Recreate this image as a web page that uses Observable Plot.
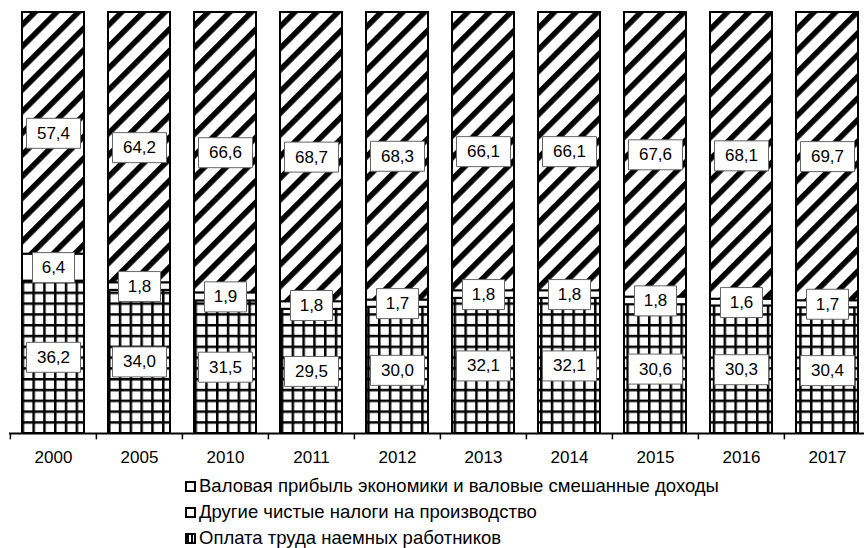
<!DOCTYPE html>
<html><head><meta charset="utf-8">
<script src="https://cdn.jsdelivr.net/npm/d3@7"></script>
<script src="https://cdn.jsdelivr.net/npm/@observablehq/plot@0.6"></script>
<style>
body{margin:0;background:#fff;font-family:"Liberation Sans",Arial,sans-serif;}
#wrap{position:relative;width:864px;height:548px;overflow:hidden;}
#legend{position:absolute;left:185px;top:473px;font-size:18.5px;color:#000;}
.row{height:26px;display:flex;align-items:center;white-space:nowrap;line-height:1;}
.mk{box-sizing:border-box;width:11px;height:11px;border:2px solid #000;background:#fff;margin-right:3px;}
.mk.grid{background:repeating-linear-gradient(90deg,#000 0 2px,#fff 2px 4px);}
</style></head><body>
<div id="wrap"><div id="chart"></div><div id="legend"></div></div>
<script>
const years = ["2000","2005","2010","2011","2012","2013","2014","2015","2016","2017"];
const seriesNames = [
  "Оплата труда наемных работников",
  "Другие чистые налоги на производство",
  "Валовая прибыль экономики и валовые смешанные доходы"
];
const wages  = [36.2, 34.0, 31.5, 29.5, 30.0, 32.1, 32.1, 30.6, 30.3, 30.4];
const taxes  = [6.4, 1.8, 1.9, 1.8, 1.7, 1.8, 1.8, 1.8, 1.6, 1.7];
const profit = [57.4, 64.2, 66.6, 68.7, 68.3, 66.1, 66.1, 67.6, 68.1, 69.7];
const legendOrder = [seriesNames[2], seriesNames[1], seriesNames[0]];

const seriesValues = [wages, taxes, profit];
const data = [];
seriesNames.forEach((s, si) => years.forEach((y, yi) => data.push({year: y, series: s, value: seriesValues[si][yi]})));

const stackOpts = {x: "year", y: "value", z: "series", order: seriesNames, offset: "normalize"};
const boxSymbol = (w, h) => ({draw(ctx) { ctx.rect(-w / 2, -h / 2, w, h); }});
const wideBox = boxSymbol(54, 30);
const narrowBox = boxSymbol(42, 30);
const fmt = v => v.toFixed(1).replace(".", ",");

const svg = Plot.plot({
  width: 864,
  height: 472,
  marginLeft: 9,
  marginRight: 0,
  marginTop: 12,
  marginBottom: 39,
  style: {fontFamily: "'Liberation Sans', Arial, sans-serif", fontSize: "17px", color: "#000", background: "#fff"},
  x: {domain: years, range: [9, 871], paddingInner: 0.28, paddingOuter: 0.14, label: null, tickSize: 0, tickPadding: 17},
  y: {domain: [0, 1], range: [433, 12], axis: null},
  color: {domain: seriesNames, range: ["url(#grid)", "#fff", "url(#diag)"]},
  opacity: {domain: [0, 1], range: [0, 1]},
  marks: [
    Plot.barY(data, Plot.stackY({...stackOpts, fill: "series", stroke: "#000", strokeWidth: 2})),
    Plot.ruleY([0], {stroke: "#000", strokeWidth: 2}),
    Plot.ruleX(years, {x: d => d, y1: 0, y2: -0.015, dx: -43.1, stroke: "#000", strokeWidth: 1.5}),
    Plot.dot(data, Plot.stackY({...stackOpts, symbol: wideBox, fill: "#fff", stroke: "#666", strokeWidth: 1,
      fillOpacity: d => d.value >= 10 ? 1 : 0, strokeOpacity: d => d.value >= 10 ? 1 : 0})),
    Plot.dot(data, Plot.stackY({...stackOpts, symbol: narrowBox, fill: "#fff", stroke: "#666", strokeWidth: 1,
      fillOpacity: d => d.value < 10 ? 1 : 0, strokeOpacity: d => d.value < 10 ? 1 : 0})),
    Plot.text(data, Plot.stackY({...stackOpts, text: d => fmt(d.value), fill: "#000", fontSize: 17}))
  ]
});

const defs = d3.select(svg).insert("defs", ":first-child");
const P = 15.3;
const diag = defs.append("pattern").attr("id", "diag").attr("patternUnits", "userSpaceOnUse")
  .attr("width", P).attr("height", P).attr("patternTransform", "rotate(-45)");
diag.append("rect").attr("width", P).attr("height", P).attr("fill", "#fff");
diag.append("rect").attr("y", 0).attr("width", P).attr("height", 5.5).attr("fill", "#000");
const G = 10.8;
const grid = defs.append("pattern").attr("id", "grid").attr("patternUnits", "userSpaceOnUse")
  .attr("width", G).attr("height", G);
grid.append("rect").attr("width", G).attr("height", G).attr("fill", "#fff");
grid.append("rect").attr("width", 2.5).attr("height", G).attr("fill", "#000");
grid.append("rect").attr("width", G).attr("height", 2.5).attr("fill", "#000");

document.getElementById("chart").appendChild(svg);

const legend = d3.select("#legend");
legendOrder.forEach(name => {
  const row = legend.append("div").attr("class", "row");
  row.append("span").attr("class", "mk" + (name === seriesNames[0] ? " grid" : ""));
  row.append("span").text(name);
});
</script>
</body></html>
